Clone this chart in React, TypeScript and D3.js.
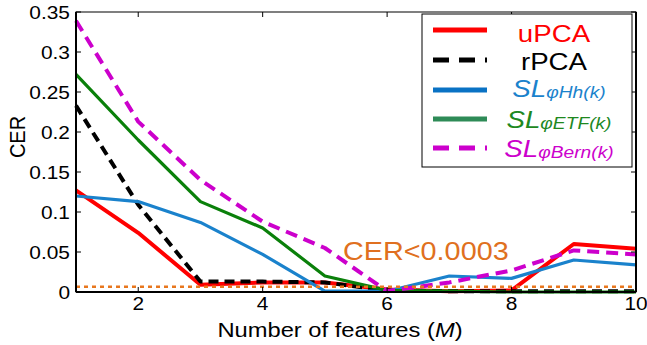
import React from "react";
import * as d3 from "d3";

// chart data
const features = [1, 2, 3, 4, 5, 6, 7, 8, 9, 10];
const uPCA = [0.127, 0.074, 0.009, 0.012, 0.012, 0.003, 0.001, 0.002, 0.06, 0.054];
const rPCA = [0.233, 0.109, 0.013, 0.013, 0.012, 0.002, 0.001, 0.001, 0.001, 0.001];
const slHh = [0.12, 0.113, 0.087, 0.047, 0.001, 0.001, 0.02, 0.017, 0.04, 0.034];
const slETF = [0.272, 0.19, 0.113, 0.08, 0.02, 0.002, 0.001, 0.0, 0.0, 0.0];
const slBern = [0.339, 0.213, 0.14, 0.088, 0.055, 0.001, 0.012, 0.027, 0.052, 0.047];
const threshold = 0.0065;
const thresholdLabel = "CER<0.0003";
const xTicks = [2, 4, 6, 8, 10];
const yTicks = [0, 0.05, 0.1, 0.15, 0.2, 0.25, 0.3, 0.35];

const W = 647;
const H = 345;
const margin = { top: 12, right: 11, bottom: 53, left: 76 };
const FONT = "Liberation Sans, Arial, Helvetica, sans-serif";
const SX = 1.13; // the reference text is a little wider than Arial

const series = [
  { name: "uPCA", sub: "", values: uPCA, color: "#ff0000", text: "#ff0000", legendColor: "#ff0000", width: 4, dash: null },
  { name: "rPCA", sub: "", values: rPCA, color: "#000000", text: "#000000", legendColor: "#000000", width: 4, dash: "10,6" },
  { name: "SL", sub: "φHh(k)", values: slHh, color: "#1a82cc", text: "#1a82cc", legendColor: "#0a72c4", width: 3.2, dash: null },
  { name: "SL", sub: "φETF(k)", values: slETF, color: "#0a800a", text: "#20881e", legendColor: "#2e8b57", width: 3.2, dash: null },
  { name: "SL", sub: "φBern(k)", values: slBern, color: "#cc00cc", text: "#cc00cc", legendColor: "#cc00cc", width: 4, dash: "12,7" },
];

const legendBaselines = [41.5, 70, 97, 128, 157];
const legendLineY = [30, 60, 90, 119, 148];

export default function App() {
  const x = d3.scaleLinear().domain([1, 10]).range([margin.left, W - margin.right]);
  const y = d3.scaleLinear().domain([0, 0.35]).range([H - margin.bottom, margin.top]);
  const line = d3
    .line<number>()
    .x((d, i) => x(features[i]))
    .y((d) => y(d));

  const x0 = x.range()[0];
  const x1 = x.range()[1];
  const y0 = y.range()[0];
  const y1 = y.range()[1];

  return (
    <svg width={W} height={H} style={{ position: "absolute", left: 0, top: 0, background: "#fff" }} fontFamily={FONT}>
      {/* series */}
      {series.map((s, i) => (
        <path
          key={i}
          d={line(s.values) || ""}
          fill="none"
          stroke={s.color}
          strokeWidth={s.width}
          strokeDasharray={s.dash || undefined}
          strokeLinejoin="round"
        />
      ))}
      {/* threshold */}
      <line x1={x0} x2={x1} y1={y(threshold)} y2={y(threshold)} stroke="#e8771e" strokeWidth={2.5} strokeDasharray="4,4" />
      <text transform={`translate(343,260) scale(${SX},1)`} fontSize={25.5} fill="#e07020">
        {thresholdLabel}
      </text>

      {/* axes box */}
      <rect x={x0} y={y1} width={x1 - x0} height={y0 - y1} fill="none" stroke="#000" strokeWidth={1} />
      <line x1={x0} x2={x0} y1={y1} y2={y0} stroke="#000" strokeWidth={2} />
      <line x1={x0} x2={x1} y1={y0} y2={y0} stroke="#000" strokeWidth={2} />
      <line x1={x1} x2={x1} y1={y1} y2={y0} stroke="#000" strokeWidth={2} />

      {xTicks.map((t) => (
        <g key={"x" + t}>
          <line x1={x(t)} x2={x(t)} y1={y0} y2={y0 - 5} stroke="#000" />
          <line x1={x(t)} x2={x(t)} y1={y1} y2={y1 + 5} stroke="#000" />
          <text transform={`translate(${x(t)},${y0 + 18}) scale(${SX},1)`} fontSize={18.5} textAnchor="middle">
            {t}
          </text>
        </g>
      ))}
      {yTicks.map((t) => (
        <g key={"y" + t}>
          <line x1={x0} x2={x0 + 5} y1={y(t)} y2={y(t)} stroke="#000" />
          <line x1={x1} x2={x1 - 5} y1={y(t)} y2={y(t)} stroke="#000" />
          <text transform={`translate(${x0 - 6},${y(t) + 6.5}) scale(${SX},1)`} fontSize={18.5} textAnchor="end">
            {t === 0 ? "0" : String(t)}
          </text>
        </g>
      ))}

      <text transform={`translate(${(x0 + x1) / 2 - 16},337) scale(${SX},1)`} fontSize={21} textAnchor="middle">
        Number of features (<tspan fontStyle="italic">M</tspan>)
      </text>
      <text transform={`translate(25,137) rotate(-90) scale(1,${SX})`} fontSize={20} textAnchor="middle">
        CER
      </text>

      {/* legend */}
      <rect x={422} y={14} width={210} height={153} fill="#fff" stroke="#000" strokeWidth={1} />
      {series.map((s, i) => (
        <g key={"l" + i}>
          <line
            x1={433}
            x2={487}
            y1={legendLineY[i]}
            y2={legendLineY[i]}
            stroke={s.legendColor}
            strokeWidth={5}
            strokeDasharray={s.dash ? "16,10" : undefined}
          />
          {s.sub ? (
            <text transform={`translate(559,${legendBaselines[i]}) scale(${SX},1)`} textAnchor="middle" fill={s.text} fontStyle="italic">
              <tspan fontSize={24.5}>{s.name}</tspan>
              <tspan fontSize={17} dy={1}>{s.sub}</tspan>
            </text>
          ) : (
            <text transform={`translate(554,${legendBaselines[i]}) scale(${SX},1)`} textAnchor="middle" fill={s.text} fontSize={24.5}>
              {s.name}
            </text>
          )}
        </g>
      ))}
    </svg>
  );
}
